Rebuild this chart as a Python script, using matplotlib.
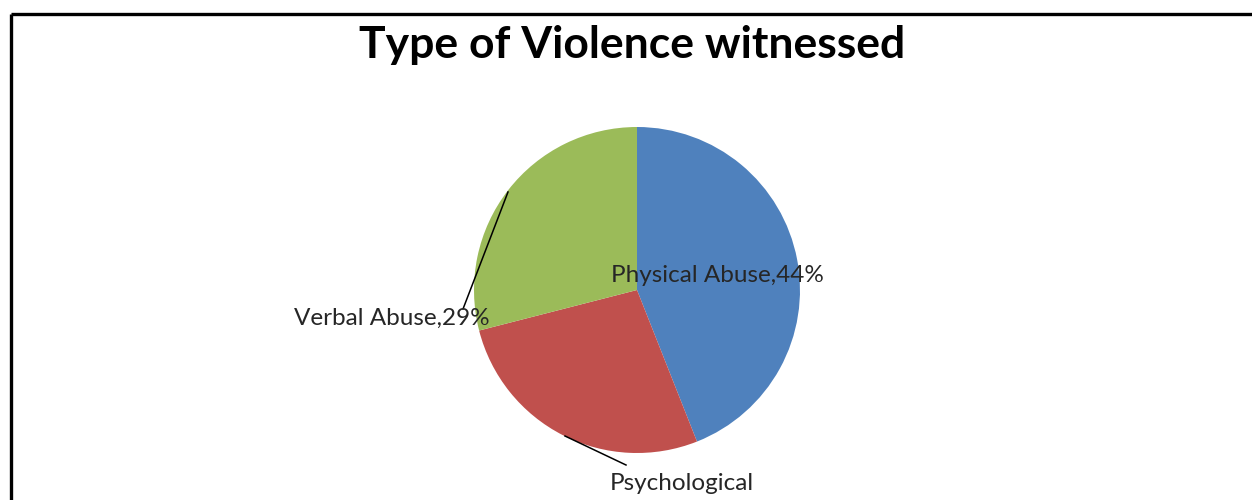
import matplotlib
matplotlib.use("Agg")
import matplotlib.pyplot as plt

categories = ["Physical Abuse", "Psychological\nAbuse", "Verbal Abuse"]
values = [44, 27, 29]
colors = ["#4F81BD", "#C0504D", "#9BBB59"]
title = "Type of Violence witnessed"

W, H = 1252, 500
fig = plt.figure(figsize=(W / 100, H / 100), dpi=100)
ax = fig.add_axes([0, 0, 1, 1])

cx, cy, r = 637, H - 290, 163
ax.pie(values, colors=colors, startangle=90, counterclock=False,
       center=(cx, cy), radius=r, frame=True,
       wedgeprops=dict(linewidth=0))
ax.set_xlim(0, W)
ax.set_ylim(0, H)
ax.set_aspect("equal")
ax.axis("off")

font = ["Lato", "DejaVu Sans"]
lab_kw = dict(fontsize=17.5, color="#262626", family=font)


def label(i):
    return f"{categories[i]},{values[i]}%"


# Physical Abuse: label inside the slice
ax.text(717, H - 276, label(0), ha="center", va="center", **lab_kw)

# Verbal Abuse: label outside with a leader line
ax.plot([508, 463], [H - 192, H - 309], color="black", lw=1.1)
ax.text(392, H - 318, label(2), ha="center", va="center", **lab_kw)

# Psychological Abuse: label below with a leader line
ax.plot([565, 626], [H - 436, H - 465], color="black", lw=1.1)
ax.text(682, H - 473, label(1), ha="center", va="top",
        linespacing=1.8, **lab_kw)

# title
ax.text(632, H - 45, title, ha="center", va="center", fontsize=32,
        fontweight="bold", color="black", family=font)

# chart border (top and left edges)
ax.plot([11, W], [H - 14, H - 14], color="black", lw=2.4,
        solid_capstyle="butt")
ax.plot([11, 11], [H - 14, 0], color="black", lw=2.4,
        solid_capstyle="butt")

fig.savefig("out.png", dpi=100)
